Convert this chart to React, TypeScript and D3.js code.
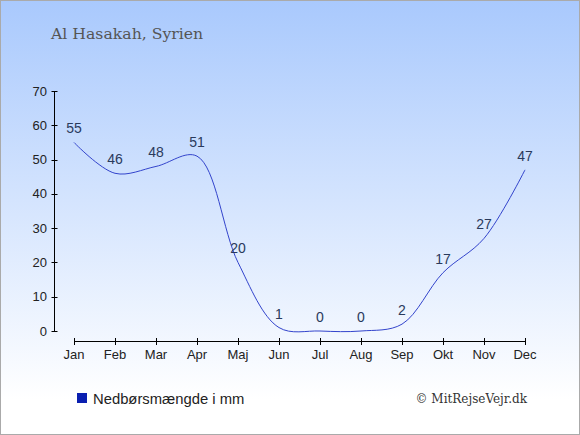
import { useEffect, useRef } from "react"
import * as d3 from 'd3'

const months = ["Jan", "Feb", "Mar", "Apr", "Maj", "Jun", "Jul", "Aug", "Sep", "Okt", "Nov", "Dec"]
const rainfall = [55, 46, 48, 51, 20, 1, 0, 0, 2, 17, 27, 47]
const yTicks = [0, 10, 20, 30, 40, 50, 60, 70]

const title = "Al Hasakah, Syrien"
const legendLabel = "Nedbørsmængde i mm"
const credit = "© MitRejseVejr.dk"

export default function App() {
  const svgRef = useRef<SVGSVGElement>(null)

  useEffect(() => {
    d3.select(svgRef.current).selectAll('*').remove()
    if (!svgRef.current) return
    const svg = d3.select(svgRef.current)
    const width = 580
    const height = 435

    const defs = svg.append('defs')
    const grad = defs.append('linearGradient')
      .attr('id', 'bg')
      .attr('x1', 0).attr('y1', 0).attr('x2', 0).attr('y2', 1)
    grad.append('stop').attr('offset', '0%').attr('stop-color', '#a9c9fd')
    grad.append('stop').attr('offset', '92%').attr('stop-color', '#ffffff')
    grad.append('stop').attr('offset', '100%').attr('stop-color', '#ffffff')

    svg.append('rect')
      .attr('x', 0.5).attr('y', 0.5)
      .attr('width', width - 1).attr('height', height - 1)
      .attr('fill', 'url(#bg)')
      .attr('stroke', '#aaaaaa')

    svg.append('text')
      .attr('x', 51).attr('y', 38.5)
      .attr('font-family', '"DejaVu Serif", serif')
      .attr('font-size', 15.7)
      .attr('fill', '#555555')
      .text(title)

    const xScale = d3.scalePoint<string>()
      .domain(months)
      .range([74, 525])

    const yScale = d3.scaleLinear()
      .domain([0, 70])
      .range([331, 91])

    // y axis
    const yAxis = svg.append('g')
    yAxis.append('line')
      .attr('x1', 54.5).attr('x2', 54.5)
      .attr('y1', yScale(70)).attr('y2', yScale(0))
      .attr('stroke', '#000')
    yAxis.selectAll('.yt')
      .data(yTicks)
      .join('line')
      .attr('x1', 51.5).attr('x2', 57.5)
      .attr('y1', d => Math.round(yScale(d)) + 0.5)
      .attr('y2', d => Math.round(yScale(d)) + 0.5)
      .attr('stroke', '#000')
    yAxis.selectAll('.yl')
      .data(yTicks)
      .join('text')
      .attr('x', 47)
      .attr('y', d => yScale(d))
      .attr('dy', '0.35em')
      .attr('text-anchor', 'end')
      .attr('font-family', '"Liberation Sans", Arial, sans-serif')
      .attr('font-size', 13)
      .attr('fill', '#222')
      .text(d => d)

    // x axis
    const xAxis = svg.append('g')
    xAxis.append('line')
      .attr('x1', xScale(months[0])!).attr('x2', xScale(months[11])! + 1)
      .attr('y1', 341.5).attr('y2', 341.5)
      .attr('stroke', '#000')
    xAxis.selectAll('.xt')
      .data(months)
      .join('line')
      .attr('x1', d => Math.round(xScale(d)!) + 0.5)
      .attr('x2', d => Math.round(xScale(d)!) + 0.5)
      .attr('y1', 338).attr('y2', 345)
      .attr('stroke', '#000')
    xAxis.selectAll('.xl')
      .data(months)
      .join('text')
      .attr('x', d => xScale(d)!)
      .attr('y', 359)
      .attr('text-anchor', 'middle')
      .attr('font-family', '"Liberation Sans", Arial, sans-serif')
      .attr('font-size', 13)
      .attr('fill', '#222')
      .text(d => d)

    const line = d3.line<number>()
      .x((d, i) => xScale(months[i])!)
      .y(d => yScale(d))
      .curve(d3.curveCatmullRom.alpha(0.5))

    svg.append('path')
      .datum(rainfall)
      .attr('fill', 'none')
      .attr('stroke', '#3344cc')
      .attr('stroke-width', 1)
      .attr('d', line)

    svg.selectAll('.val')
      .data(rainfall)
      .join('text')
      .attr('x', (d, i) => xScale(months[i])!)
      .attr('y', d => yScale(d) - 9)
      .attr('text-anchor', 'middle')
      .attr('font-family', '"Liberation Sans", Arial, sans-serif')
      .attr('font-size', 14)
      .attr('fill', '#2a3a5c')
      .text(d => d)

    // legend
    svg.append('rect')
      .attr('x', 77).attr('y', 393)
      .attr('width', 10).attr('height', 10)
      .attr('fill', '#0a1fb0')
    svg.append('text')
      .attr('x', 93).attr('y', 404)
      .attr('font-family', '"Liberation Sans", Arial, sans-serif')
      .attr('font-size', 14.8)
      .attr('fill', '#222')
      .text(legendLabel)

    svg.append('text')
      .attr('x', 527).attr('y', 403)
      .attr('text-anchor', 'end')
      .attr('font-family', '"DejaVu Serif", serif')
      .attr('font-size', 12)
      .attr('fill', '#333')
      .text(credit)
  }, [])

  return (
    <svg ref={svgRef} width="580" height="435"
      style={{ position: 'absolute', left: 0, top: 0, display: 'block' }}></svg>
  )
}
